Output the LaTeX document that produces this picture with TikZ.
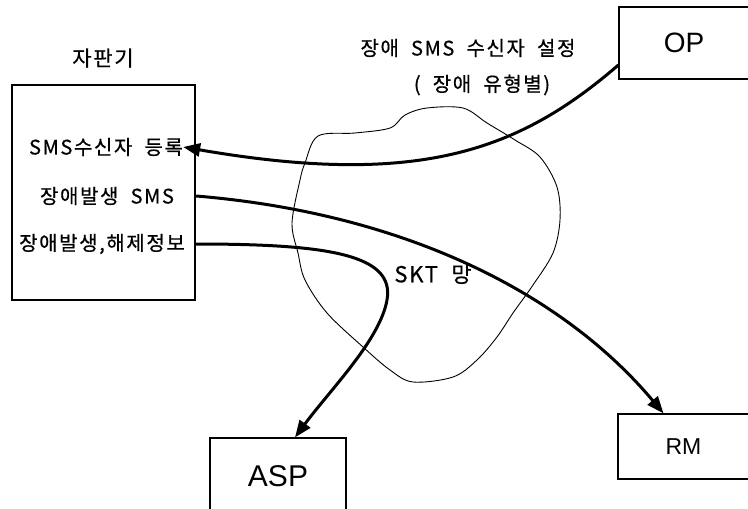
\documentclass[tikz,border=0pt]{standalone}
\usepackage{fontspec}
\setmainfont{Liberation Sans}
\newfontfamily\krfont[LetterSpace=8,WordSpace=2,FakeBold=0.6]{Noto Sans CJK KR}
\usetikzlibrary{arrows.meta}

\begin{document}
\begin{tikzpicture}[x=1pt,y=-1pt,
  box/.style={draw,line width=1.2pt,inner sep=0pt},
  krtext/.style={font=\krfont\fontsize{20}{24}\selectfont,inner sep=0pt},
  link/.style={->,line width=3pt},
  >={Triangle[length=17pt,width=13pt]}]
\useasboundingbox (0,0) rectangle (748,509);
\node[box,line width=2.4pt,minimum width=183pt,minimum height=215pt] (vm) at (103.5,192.5) {};
\node[krtext,font=\krfont\fontsize{21}{24}\selectfont] (vmname) at (103,58) {자판기};
\node[krtext] (reg) at (106,147) {SMS수신자 등록};
\node[krtext] (occ) at (107,196) {장애발생 SMS};
\node[krtext] (info) at (102,244) {장애발생,해제정보};
\node[box,minimum width=130pt,minimum height=72pt,font=\fontsize{28}{30}\selectfont] (op) at (684,43) {OP};
\node[box,minimum width=131pt,minimum height=65pt,font=\fontsize{23}{26}\selectfont] (rm) at (683.5,446.5) {RM};
\node[box,minimum width=136pt,minimum height=76pt,font=\fontsize{30}{32}\selectfont] (asp) at (278,476) {ASP};
\node[krtext] (cfg) at (468,48) {장애 SMS 수신자 설정};
\node[krtext] (cfgtype) at (482,85) {( 장애 유형별)};
\node[krtext,font=\krfont\fontsize{22}{24}\selectfont] (skt) at (433,274) {SKT 망};
% network cloud
\draw[line width=0.9pt] plot[smooth cycle,tension=0.55] coordinates {
  (318,136) (355,133) (390,128) (405,115) (427,108) (463,108) (487,123)
  (515,140) (540,157) (557,187) (560,220) (553,253) (533,285) (513,313)
  (497,337) (477,360) (453,377) (413,382) (390,370) (363,347) (327,313)
  (305,280) (298,253) (292,223) (300,180) (305,163)};
\draw[link] ([yshift=-22pt]op.west) .. controls (520,150) and (420,188) .. (reg.east);
\draw[link] (vm.east |- occ) .. controls (400,213) and (560,290) .. ([xshift=-20pt]rm.north);
\draw[link] (vm.east |- info) .. controls (330,244) and (395,255) .. (387,300)
  .. controls (380,340) and (330,390) .. ([xshift=17pt]asp.north);
\end{tikzpicture}
\end{document}
